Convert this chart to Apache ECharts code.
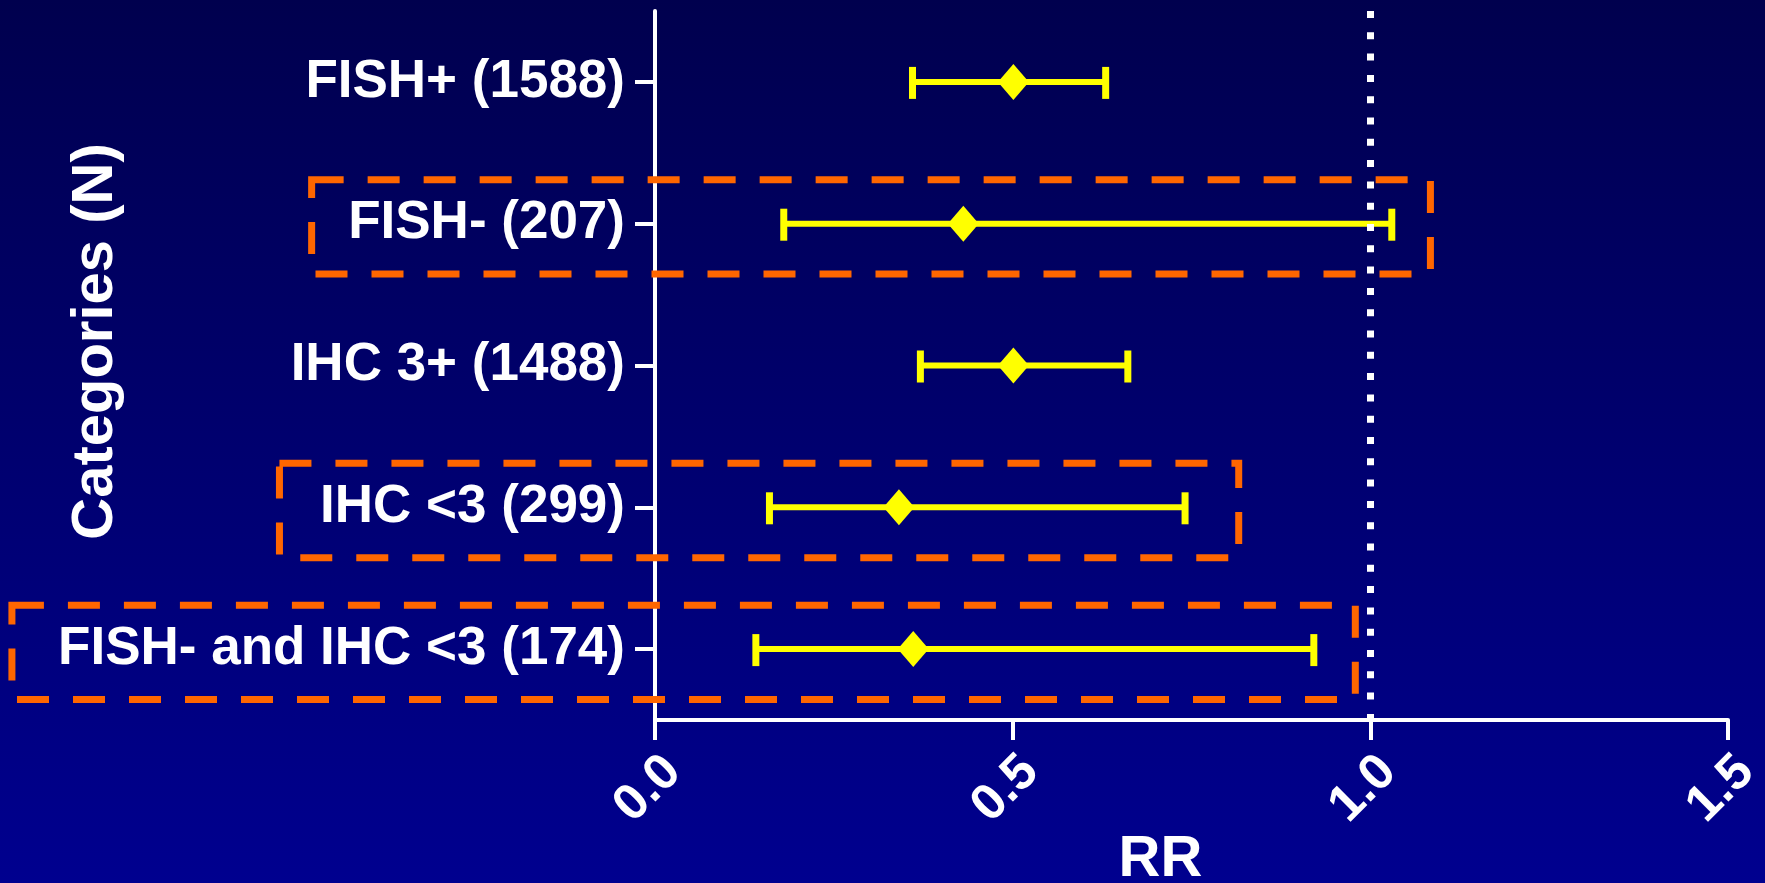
<!DOCTYPE html>
<html>
<head>
<meta charset="utf-8">
<script src="https://cdn.jsdelivr.net/npm/echarts@6/dist/echarts.min.js"></script>
<style>
  html, body { margin: 0; padding: 0; background: #000066; }
  #chart { width: 1765px; height: 883px; }
</style>
</head>
<body>
<div id="chart"></div>
<script>
// ---- data ----
const categories = ['FISH+ (1588)', 'FISH- (207)', 'IHC 3+ (1488)', 'IHC <3 (299)', 'FISH- and IHC <3 (174)'];
const rrPoint = [0.501, 0.431, 0.501, 0.341, 0.361];
const rrLower = [0.360, 0.180, 0.371, 0.160, 0.141];
const rrUpper = [0.630, 1.030, 0.661, 0.741, 0.921];
const xTicks = [0.0, 0.5, 1.0, 1.5];
const referenceRR = 1.0;
// highlighted rows (dashed boxes): category index, left and right extent in RR units
const boxRows = [1, 3, 4];
const boxLeft = [-0.480, -0.525, -0.899];
const boxRight = [1.084, 0.816, 0.979];

const FONT = '"Liberation Sans", Arial, sans-serif';
const YELLOW = '#FFFF00';
const ORANGE = '#FF6600';

const errData = categories.map((c, i) => [i, rrLower[i], rrUpper[i]]);
const pointData = categories.map((c, i) => [rrPoint[i], i]);
const boxData = boxRows.map((r, k) => [r, boxLeft[k], boxRight[k]]);

const chart = echarts.init(document.getElementById('chart'), null, { renderer: 'canvas' });

chart.setOption({
  animation: false,
  backgroundColor: {
    type: 'linear', x: 0, y: 0, x2: 0, y2: 1,
    colorStops: [{ offset: 0, color: '#00004E' }, { offset: 1, color: '#00008F' }]
  },
  grid: { left: 655, right: 37, top: 11, bottom: 163, containLabel: false, outerBoundsMode: 'none' },
  xAxis: {
    type: 'value',
    min: xTicks[0], max: xTicks[xTicks.length - 1], interval: 0.5,
    name: 'RR',
    nameLocation: 'middle',
    nameGap: 111,
    nameMoveOverlap: false,
    nameTextStyle: { color: '#fff', fontSize: 58, fontWeight: 'bold', fontFamily: FONT, padding: [0, 62, 0, 0] },
    axisLine: { show: true, onZero: false, lineStyle: { color: '#fff', width: 4 } },
    axisTick: { show: true, length: 20, lineStyle: { color: '#fff', width: 4 } },
    axisLabel: {
      color: '#fff', fontSize: 51, fontWeight: 'bold', fontFamily: FONT,
      rotate: 45, margin: 26, verticalAlign: 'top',
      formatter: v => Number(v).toFixed(1)
    },
    splitLine: { show: false }
  },
  yAxis: {
    type: 'category',
    data: categories,
    inverse: true,
    name: 'Categories (N)',
    nameLocation: 'middle',
    nameGap: 530,
    nameRotate: 90,
    nameMoveOverlap: false,
    nameTextStyle: { color: '#fff', fontSize: 58, fontWeight: 'bold', fontFamily: FONT, padding: [0, 0, 0, 48] },
    axisLine: { show: true, lineStyle: { color: '#fff', width: 4 } },
    axisTick: { show: true, alignWithLabel: true, length: 20, lineStyle: { color: '#fff', width: 4 } },
    axisLabel: { color: '#fff', fontSize: 53, fontWeight: 'bold', fontFamily: FONT, margin: 30 },
    splitLine: { show: false }
  },
  series: [
    {
      type: 'custom',
      name: 'boxes',
      clip: false,
      silent: true,
      z: 1,
      data: boxData,
      encode: { x: [1, 2], y: 0 },
      renderItem: function (params, api) {
        const cat = api.value(0);
        const band = api.size([0, 1])[1];
        const cy = api.coord([0, cat])[1];
        const x1 = api.coord([api.value(1), cat])[0];
        const x2 = api.coord([api.value(2), cat])[0];
        const top = cy - 0.31 * band;
        const bottom = cy + 0.355 * band;
        return {
          type: 'rect',
          shape: { x: x1, y: top, width: x2 - x1, height: bottom - top },
          style: { fill: null, stroke: ORANGE, lineWidth: 7, lineDash: [32, 24] }
        };
      }
    },
    {
      type: 'custom',
      name: 'CI',
      clip: false,
      silent: true,
      z: 3,
      data: errData,
      encode: { x: [1, 2], y: 0 },
      renderItem: function (params, api) {
        const cat = api.value(0);
        const lo = api.coord([api.value(1), cat]);
        const hi = api.coord([api.value(2), cat]);
        const capTop = -15, capBot = 17;
        return {
          type: 'group',
          children: [
            { type: 'line', shape: { x1: lo[0], y1: lo[1], x2: hi[0], y2: hi[1] }, style: { stroke: YELLOW, lineWidth: 6 } },
            { type: 'line', shape: { x1: lo[0], y1: lo[1] + capTop, x2: lo[0], y2: lo[1] + capBot }, style: { stroke: YELLOW, lineWidth: 7 } },
            { type: 'line', shape: { x1: hi[0], y1: hi[1] + capTop, x2: hi[0], y2: hi[1] + capBot }, style: { stroke: YELLOW, lineWidth: 7 } }
          ]
        };
      }
    },
    {
      type: 'scatter',
      name: 'RR',
      symbol: 'diamond',
      symbolSize: [31, 36],
      itemStyle: { color: YELLOW, opacity: 1 },
      z: 5,
      data: pointData,
      markLine: {
        silent: true,
        symbol: ['none', 'none'],
        label: { show: false },
        lineStyle: { color: '#ffffff', width: 7, type: [7, 14.3], opacity: 1 },
        emphasis: { disabled: true },
        data: [{ xAxis: referenceRR }]
      }
    }
  ]
});
</script>
</body>
</html>
